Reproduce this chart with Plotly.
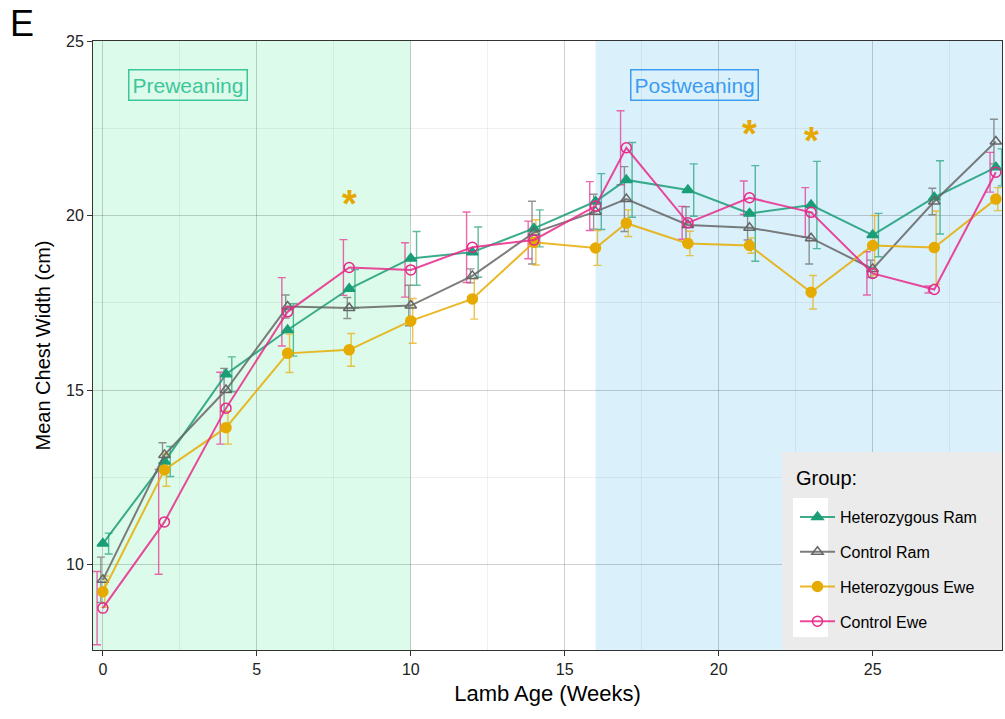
import plotly.graph_objects as go

weeks = [0, 2, 4, 6, 8, 10, 12, 14, 16, 17, 19, 21, 23, 25, 27, 29]

het_ram = [10.6, 12.95, 15.45, 16.72, 17.9, 18.77, 18.95, 19.63, 20.4, 21.02, 20.73, 20.06, 20.3, 19.44, 20.52, 21.38]
het_ram_se = [0.3, 0.43, 0.5, 0.75, 0.55, 0.77, 0.72, 0.53, 0.8, 1.07, 0.75, 1.37, 1.25, 0.62, 1.05, 0.53]

ctl_ram = [9.56, 13.14, 15.0, 17.39, 17.35, 17.42, 18.27, 19.51, 20.11, 20.47, 19.73, 19.65, 19.35, 18.47, 20.4, 22.12]
ctl_ram_se = [0.65, 0.35, 0.62, 0.33, 0.3, 0.58, 0.2, 0.9, 0.5, 0.93, 0.52, 0.35, 0.74, 0.25, 0.38, 0.64]

het_ewe = [9.22, 12.71, 13.92, 16.05, 16.15, 16.98, 17.61, 19.23, 19.07, 19.78, 19.2, 19.14, 17.8, 19.14, 19.08, 20.47]
het_ewe_se = [0.45, 0.47, 0.47, 0.55, 0.47, 0.64, 0.58, 0.65, 0.5, 0.38, 0.35, 0.22, 0.48, 0.86, 1.05, 0.33]

ctl_ewe = [8.75, 11.22, 14.48, 17.24, 18.51, 18.44, 19.09, 19.3, 20.27, 21.94, 19.79, 20.51, 20.09, 18.34, 17.88, 21.24]
ctl_ewe_se = [1.05, 1.5, 1.03, 0.98, 0.8, 0.78, 1.01, 0.54, 0.7, 1.06, 0.47, 0.48, 0.71, 0.62, 0.1, 0.57]

star_weeks = [8, 21, 23]
star_y = [20.6, 22.6, 22.4]

x_range = [-0.32, 29.2]
y_range = [7.55, 25]
preweaning_end = 10
postweaning_start = 16

groups = [
    # name, mean, se, color(rgb), symbol, dodge
    ("Heterozygous Ram", het_ram, het_ram_se, (27, 158, 119), "triangle-up", 0.1875),
    ("Control Ram", ctl_ram, ctl_ram_se, (102, 102, 102), "triangle-up-open", -0.0625),
    ("Heterozygous Ewe", het_ewe, het_ewe_se, (230, 171, 2), "circle", 0.0625),
    ("Control Ewe", ctl_ewe, ctl_ewe_se, (231, 41, 138), "circle-open", -0.1875),
]

fig = go.Figure()

# error bars (dodged)
for name, mean, se, c, sym, dodge in groups:
    fig.add_trace(go.Scatter(
        x=[w + dodge for w in weeks], y=mean, mode="markers",
        marker=dict(size=1, opacity=0),
        error_y=dict(type="data", array=se, visible=True, thickness=1.4, width=4,
                     color=f"rgba({c[0]},{c[1]},{c[2]},0.7)"),
        showlegend=False, hoverinfo="skip"))

# lines + markers
for name, mean, se, c, sym, dodge in groups:
    fig.add_trace(go.Scatter(
        x=weeks, y=mean, mode="lines+markers", name=name, legendgroup=name,
        line=dict(color=f"rgba({c[0]},{c[1]},{c[2]},0.85)", width=2),
        marker=dict(symbol=sym, size=10, color=f"rgb({c[0]},{c[1]},{c[2]})",
                    line=dict(width=1.5, color=f"rgb({c[0]},{c[1]},{c[2]})"))))

# significance asterisks
for sx, sy in zip(star_weeks, star_y):
    fig.add_annotation(x=sx, y=sy, xref="x", yref="y", text="<b>*</b>", showarrow=False,
                       yshift=-9, font=dict(size=38, color="#E6A800", family="Liberation Sans"))

fig.add_shape(type="rect", xref="x", yref="paper", x0=x_range[0], x1=preweaning_end, y0=0, y1=1,
              fillcolor="#DDFBEA", line=dict(width=0), layer="below")
fig.add_shape(type="rect", xref="x", yref="paper", x0=postweaning_start, x1=x_range[1], y0=0, y1=1,
              fillcolor="#DAF1FC", line=dict(width=0), layer="below")

# legend background box and key background
fig.add_shape(type="rect", xref="paper", yref="paper",
              x0=(782 - 93) / 909, x1=1, y0=0, y1=(650 - 452) / 609,
              fillcolor="#EBEBEB", line=dict(width=0), layer="above")
fig.add_shape(type="rect", xref="paper", yref="paper",
              x0=(793 - 93) / 909, x1=(828 - 93) / 909, y0=(650 - 637) / 609, y1=(650 - 498) / 609,
              fillcolor="white", line=dict(width=0), layer="above")
fig.add_annotation(x=(794 - 93) / 909, y=(650 - 478) / 609, xref="paper", yref="paper",
                   text="Group:", showarrow=False, xanchor="left", yanchor="middle",
                   font=dict(size=20, color="black", family="Liberation Sans"))

fig.add_annotation(x=2.76, y=23.74, xref="x", yref="y", text="Preweaning", showarrow=False,
                   font=dict(size=21, color="#3CC79A", family="Liberation Sans"),
                   bordercolor="#3CC79A", borderwidth=1.5, borderpad=3)
fig.add_annotation(x=19.2, y=23.74, xref="x", yref="y", text="Postweaning", showarrow=False,
                   font=dict(size=21, color="#3D9CF0", family="Liberation Sans"),
                   bordercolor="#3D9CF0", borderwidth=1.5, borderpad=3)
fig.add_annotation(x=-0.093, y=1.065, xref="paper", yref="paper", text="E", showarrow=False,
                   xanchor="left", yanchor="top",
                   font=dict(size=36, color="black", family="Liberation Sans"))

axis_common = dict(
    showline=True, linecolor="#333333", linewidth=1, mirror=True,
    ticks="outside", ticklen=5, tickcolor="#333333",
    tickfont=dict(size=16, color="#222222", family="Liberation Sans"),
    showgrid=True, gridcolor="rgba(0,0,0,0.13)", gridwidth=1,
    zeroline=False,
    minor=dict(showgrid=True, gridcolor="rgba(0,0,0,0.06)", gridwidth=1, ticks=""),
)

fig.update_xaxes(range=x_range, tickvals=[0, 5, 10, 15, 20, 25],
                 minor_dtick=2.5, minor_tick0=0,
                 title=dict(text="Lamb Age (Weeks)", font=dict(size=22, color="black", family="Liberation Sans"),
                            standoff=8),
                 **axis_common)
fig.update_yaxes(range=y_range, tickvals=[10, 15, 20, 25],
                 minor_dtick=2.5, minor_tick0=0,
                 title=dict(text="Mean Chest Width (cm)", font=dict(size=20, color="black", family="Liberation Sans"),
                            standoff=10),
                 **axis_common)

fig.update_layout(
    width=1005, height=719,
    margin=dict(l=93, r=3, t=41, b=69),
    paper_bgcolor="white", plot_bgcolor="white",
    font=dict(family="Liberation Sans"),
    legend=dict(
        font=dict(size=16, color="black"),
        bgcolor="rgba(0,0,0,0)", borderwidth=0,
        x=(795 - 93) / 909, y=(650 - 500) / 609, xanchor="left", yanchor="top",
        itemwidth=35, tracegroupgap=11,
    ),
)

fig.write_html("out.html", config={"displayModeBar": False},
               post_script="document.body.style.margin='0';document.body.style.padding='0';")
